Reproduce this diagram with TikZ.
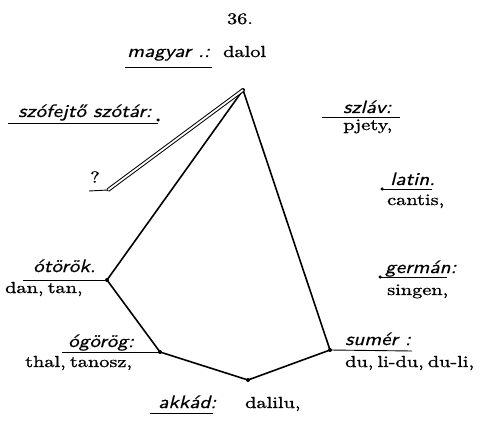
\documentclass[tikz,border=0pt]{standalone}
\usepackage{fontspec}
\newfontfamily\wordfont{lmroman10-regular.otf}[FakeStretch=1.27, FakeBold=1.2, WordSpace=0.6]
\newfontfamily\langfont{lmsans10-oblique.otf}[FakeStretch=1.18, FakeBold=0.6]
\begin{document}
\begin{tikzpicture}[x=1pt,y=-1pt,
  lang/.style={font=\fontsize{18}{20}\selectfont\langfont, inner sep=0pt, anchor=base west},
  word/.style={font=\fontsize{16}{18}\selectfont\wordfont, inner sep=0pt, anchor=base west},
  edge/.style={line width=1.6pt, line join=round, line cap=round},
  uline/.style={line width=0.9pt},
  vdot/.style={fill=black, circle, inner sep=0pt, minimum size=4pt}]
\useasboundingbox (0,0) rectangle (481,430);
% vertices
\node[vdot] (mag) at (243,90) {};
\node[vdot, minimum size=3pt] (q) at (108,190) {};
\node[vdot] (ot) at (107,280) {};
\node[vdot] (og) at (160,352) {};
\node[vdot] (ak) at (248,380) {};
\node[vdot] (su) at (330,350) {};
\node[vdot, minimum size=3.5pt] (la) at (382,189) {};
\node[vdot, minimum size=3.5pt] (ge) at (380,277) {};
\node[vdot, minimum size=3.5pt] (sz) at (158,120) {};
% connectors
\draw[edge] (mag.center) -- (ot.center) -- (og.center) -- (ak.center) -- (su.center) -- (mag.center);
\draw[line width=1pt, double distance=1.8pt] (mag.center) -- (q.center);
% title
\node[word, anchor=base] (num) at (240,24) {36.};
% magyar
\node[lang] (t1) at (127,57) {magyar .:};
\node[word] (w1) at (223,57) {dalol};
\draw[uline] (125,67) -- (212,67);
% szofejto
\node[lang] (t2) at (18,117) {szófejtő szótár:};
\draw[uline] (8,123) -- (158,123);
% szlav
\node[lang] (t3) at (343,113) {szláv:};
\draw[uline] (322,117) -- (400,117);
\node[word] (w3) at (343,130) {pjety,};
% ?
\node[word, anchor=center] (t4) at (95,177) {?};
\draw[uline] (89,191) -- (q.center);
% latin
\node[lang] (t5) at (390,185) {latin.};
\draw[uline] (la.center) -- (432,189);
\node[word] (w5) at (387,205) {cantis,};
% german
\node[lang] (t6) at (385,273) {germán:};
\draw[uline] (ge.center) -- (447,277);
\node[word] (w6) at (387,295) {singen,};
% otorok
\node[lang] (t7) at (33,272) {ótörök.};
\draw[uline] (23,280) -- (ot.center);
\node[word] (w7) at (5,293) {dan, tan,};
% ogorog
\node[lang] (t8) at (68,347) {ógörög:};
\draw[uline] (62,352) -- (og.center);
\node[word] (w8) at (25,367) {thal, tanosz,};
% sumer
\node[lang] (t9) at (345,345) {sumér :};
\draw[uline] (su.center) -- (412,351);
\node[word] (w9) at (345,367) {du, li-du, du-li,};
% akkad
\node[lang] (t10) at (158,408) {akkád:};
\draw[uline] (150,413) -- (213,413);
\node[word] (w10) at (245,408) {dalilu,};
\end{tikzpicture}
\end{document}
